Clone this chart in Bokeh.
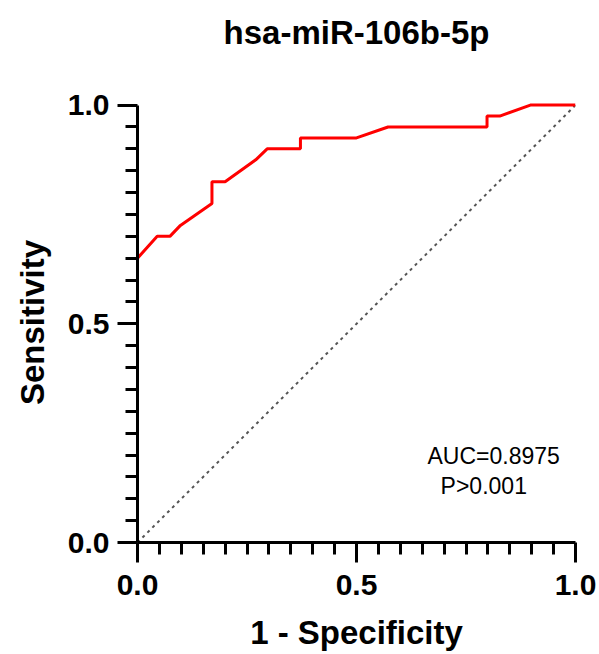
from bokeh.plotting import figure
from bokeh.models import Range1d, FixedTicker, Label
from bokeh.embed import file_html
from bokeh.resources import INLINE

# ROC curve points (1 - specificity, sensitivity)
fpr = [0.0, 0.0, 0.045, 0.074, 0.098, 0.170, 0.170, 0.200, 0.270, 0.296,
       0.372, 0.372, 0.500, 0.572, 0.798, 0.798, 0.827, 0.897, 1.0]
tpr = [0.0, 0.65, 0.70, 0.70, 0.725, 0.775, 0.825, 0.825, 0.875, 0.90,
       0.90, 0.925, 0.925, 0.95, 0.95, 0.975, 0.975, 1.0, 1.0]
diag_x = [0.0, 1.0]
diag_y = [0.0, 1.0]
major_ticks = [0.0, 0.5, 1.0]
major_tick_labels = {0.0: "0.0", 0.5: "0.5", 1.0: "1.0"}
minor_ticks = [i / 20 for i in range(21) if i % 10 != 0]
title_text = "hsa-miR-106b-5p"
x_label = "1 - Specificity"
y_label = "Sensitivity"
auc_text = "AUC=0.8975"
p_text = "P>0.001"

FONT = "Liberation Sans"

p = figure(width=599, height=654, output_backend="svg", toolbar_location=None,
           x_range=Range1d(0, 1.0), y_range=Range1d(0, 1.006),
           min_border_left=137, min_border_right=24,
           min_border_top=100, min_border_bottom=112)
p.grid.visible = False
p.outline_line_color = None
p.background_fill_color = "white"
p.border_fill_color = "white"

# a trailing empty line lifts the title towards the top of the panel
p.title.text = title_text + "\n"
p.title.text_font = FONT
p.title.text_font_size = "33px"
p.title.text_font_style = "bold"
p.title.text_color = "black"
p.title.align = "center"
p.title.vertical_align = "top"
p.title.standoff = 26

for ax, lab in ((p.xaxis[0], x_label), (p.yaxis[0], y_label)):
    ax.ticker = FixedTicker(ticks=major_ticks, minor_ticks=minor_ticks)
    ax.major_label_overrides = major_tick_labels
    ax.bounds = (0, 1)
    ax.axis_line_width = 3
    ax.axis_line_color = "black"
    ax.major_tick_line_width = 3
    ax.minor_tick_line_width = 3
    ax.major_tick_line_color = "black"
    ax.minor_tick_line_color = "black"
    ax.major_tick_in = 0
    ax.major_tick_out = 20
    ax.minor_tick_in = 0
    ax.minor_tick_out = 12
    ax.major_label_text_font = FONT
    ax.major_label_text_font_size = "30px"
    ax.major_label_text_font_style = "bold"
    ax.major_label_text_color = "black"
    ax.axis_label = lab
    ax.axis_label_text_font = FONT
    ax.axis_label_text_font_size = "33px"
    ax.axis_label_text_font_style = "bold"
    ax.axis_label_text_color = "black"

p.xaxis.major_label_standoff = 12
p.xaxis.axis_label_standoff = 16
p.yaxis.major_label_standoff = 8
p.yaxis.axis_label_standoff = 14

p.line(diag_x, diag_y, line_color="#555555", line_width=2, line_dash="3 4")
p.line(fpr, tpr, line_color="#ff0000", line_width=3)

p.add_layout(Label(x=0.662, y=0.198, text=auc_text, text_font=FONT,
                   text_font_size="23px", text_color="black",
                   text_baseline="alphabetic"))
p.add_layout(Label(x=0.692, y=0.130, text=p_text, text_font=FONT,
                   text_font_size="23px", text_color="black",
                   text_baseline="alphabetic"))

open("out.html", "w").write(file_html(p, INLINE))
